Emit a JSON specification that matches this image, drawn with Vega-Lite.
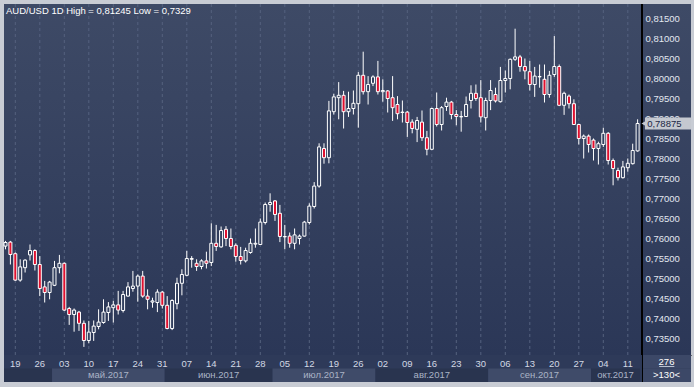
{
  "$schema": "https://vega.github.io/schema/vega-lite/v6.json",
  "padding": {"left": 3, "top": 3, "right": 4, "bottom": 6},
  "background": "#c8ccd4",
  "bounds": "flush",
  "spacing": 0,
  "config": {
    "font": "Liberation Sans",
    "locale": {
      "number": {"decimal": ",", "thousands": " ", "grouping": [3], "currency": ["", " ₽"]},
      "time": {
        "dateTime": "%A, %e %B %Y г. %X",
        "date": "%d.%m.%Y",
        "time": "%H:%M:%S",
        "periods": ["AM", "PM"],
        "days": ["воскресенье", "понедельник", "вторник", "среда", "четверг", "пятница", "суббота"],
        "shortDays": ["вс", "пн", "вт", "ср", "чт", "пт", "сб"],
        "months": ["января", "февраля", "марта", "апреля", "мая", "июня", "июля", "августа", "сентября", "октября", "ноября", "декабря"],
        "shortMonths": ["янв", "фев", "мар", "апр", "май", "июн", "июл", "авг", "сен", "окт", "ноя", "дек"]
      }
    }
  },
  "data": {
    "format": {"parse": {"d": "utc:'%Y-%m-%d'"}},
    "values": [
      {"i":0,"d":"2017-04-17","o":0.7581,"h":0.7594,"l":0.7573,"c":0.7590},
      {"i":1,"d":"2017-04-18","o":0.7591,"h":0.7594,"l":0.7535,"c":0.7560},
      {"i":2,"d":"2017-04-19","o":0.7562,"h":0.7565,"l":0.7494,"c":0.7496},
      {"i":3,"d":"2017-04-20","o":0.7496,"h":0.7548,"l":0.7492,"c":0.7529},
      {"i":4,"d":"2017-04-21","o":0.7527,"h":0.7548,"l":0.7515,"c":0.7546},
      {"i":5,"d":"2017-04-24","o":0.7559,"h":0.7585,"l":0.7545,"c":0.7570},
      {"i":6,"d":"2017-04-25","o":0.7570,"h":0.7573,"l":0.7520,"c":0.7535},
      {"i":7,"d":"2017-04-26","o":0.7535,"h":0.7556,"l":0.7456,"c":0.7475},
      {"i":8,"d":"2017-04-27","o":0.7479,"h":0.7494,"l":0.7440,"c":0.7465},
      {"i":9,"d":"2017-04-28","o":0.7465,"h":0.7494,"l":0.7448,"c":0.7491},
      {"i":10,"d":"2017-05-01","o":0.7483,"h":0.7544,"l":0.7481,"c":0.7527},
      {"i":11,"d":"2017-05-02","o":0.7527,"h":0.7559,"l":0.7513,"c":0.7538},
      {"i":12,"d":"2017-05-03","o":0.7538,"h":0.7540,"l":0.7419,"c":0.7421},
      {"i":13,"d":"2017-05-04","o":0.7425,"h":0.7429,"l":0.7384,"c":0.7410},
      {"i":14,"d":"2017-05-05","o":0.7410,"h":0.7425,"l":0.7367,"c":0.7421},
      {"i":15,"d":"2017-05-08","o":0.7416,"h":0.7419,"l":0.7369,"c":0.7388},
      {"i":16,"d":"2017-05-09","o":0.7388,"h":0.7395,"l":0.7329,"c":0.7345},
      {"i":17,"d":"2017-05-10","o":0.7345,"h":0.7394,"l":0.7338,"c":0.7366},
      {"i":18,"d":"2017-05-11","o":0.7365,"h":0.7395,"l":0.7344,"c":0.7381},
      {"i":19,"d":"2017-05-12","o":0.7380,"h":0.7423,"l":0.7373,"c":0.7391},
      {"i":20,"d":"2017-05-15","o":0.7390,"h":0.7448,"l":0.7387,"c":0.7416},
      {"i":21,"d":"2017-05-16","o":0.7415,"h":0.7441,"l":0.7394,"c":0.7429},
      {"i":22,"d":"2017-05-17","o":0.7427,"h":0.7444,"l":0.7390,"c":0.7434},
      {"i":23,"d":"2017-05-18","o":0.7434,"h":0.7469,"l":0.7410,"c":0.7421},
      {"i":24,"d":"2017-05-19","o":0.7420,"h":0.7469,"l":0.7415,"c":0.7460},
      {"i":25,"d":"2017-05-22","o":0.7456,"h":0.7491,"l":0.7455,"c":0.7479},
      {"i":26,"d":"2017-05-23","o":0.7475,"h":0.7519,"l":0.7467,"c":0.7481},
      {"i":27,"d":"2017-05-24","o":0.7481,"h":0.7510,"l":0.7442,"c":0.7506},
      {"i":28,"d":"2017-05-25","o":0.7506,"h":0.7519,"l":0.7452,"c":0.7456},
      {"i":29,"d":"2017-05-26","o":0.7456,"h":0.7473,"l":0.7423,"c":0.7448},
      {"i":30,"d":"2017-05-29","o":0.7441,"h":0.7452,"l":0.7427,"c":0.7444},
      {"i":31,"d":"2017-05-30","o":0.7440,"h":0.7473,"l":0.7416,"c":0.7466},
      {"i":32,"d":"2017-05-31","o":0.7466,"h":0.7469,"l":0.7425,"c":0.7433},
      {"i":33,"d":"2017-06-01","o":0.7433,"h":0.7456,"l":0.7373,"c":0.7375},
      {"i":34,"d":"2017-06-02","o":0.7375,"h":0.7448,"l":0.7371,"c":0.7445},
      {"i":35,"d":"2017-06-05","o":0.7437,"h":0.7502,"l":0.7423,"c":0.7488},
      {"i":36,"d":"2017-06-06","o":0.7488,"h":0.7523,"l":0.7458,"c":0.7510},
      {"i":37,"d":"2017-06-07","o":0.7508,"h":0.7569,"l":0.7506,"c":0.7550},
      {"i":38,"d":"2017-06-08","o":0.7548,"h":0.7556,"l":0.7527,"c":0.7550},
      {"i":39,"d":"2017-06-09","o":0.7538,"h":0.7548,"l":0.7519,"c":0.7530},
      {"i":40,"d":"2017-06-12","o":0.7530,"h":0.7548,"l":0.7523,"c":0.7544},
      {"i":41,"d":"2017-06-13","o":0.7544,"h":0.7567,"l":0.7525,"c":0.7538},
      {"i":42,"d":"2017-06-14","o":0.7540,"h":0.7638,"l":0.7531,"c":0.7588},
      {"i":43,"d":"2017-06-15","o":0.7588,"h":0.7634,"l":0.7569,"c":0.7580},
      {"i":44,"d":"2017-06-16","o":0.7579,"h":0.7630,"l":0.7577,"c":0.7620},
      {"i":45,"d":"2017-06-19","o":0.7623,"h":0.7631,"l":0.7581,"c":0.7600},
      {"i":46,"d":"2017-06-20","o":0.7600,"h":0.7625,"l":0.7573,"c":0.7580},
      {"i":47,"d":"2017-06-21","o":0.7583,"h":0.7588,"l":0.7542,"c":0.7555},
      {"i":48,"d":"2017-06-22","o":0.7555,"h":0.7579,"l":0.7535,"c":0.7545},
      {"i":49,"d":"2017-06-23","o":0.7544,"h":0.7577,"l":0.7540,"c":0.7570},
      {"i":50,"d":"2017-06-26","o":0.7565,"h":0.7600,"l":0.7562,"c":0.7588},
      {"i":51,"d":"2017-06-27","o":0.7586,"h":0.7625,"l":0.7577,"c":0.7588},
      {"i":52,"d":"2017-06-28","o":0.7585,"h":0.7650,"l":0.7584,"c":0.7641},
      {"i":53,"d":"2017-06-29","o":0.7640,"h":0.7690,"l":0.7635,"c":0.7685},
      {"i":54,"d":"2017-06-30","o":0.7685,"h":0.7713,"l":0.7667,"c":0.7690},
      {"i":55,"d":"2017-07-03","o":0.7694,"h":0.7696,"l":0.7644,"c":0.7660},
      {"i":56,"d":"2017-07-04","o":0.7663,"h":0.7684,"l":0.7591,"c":0.7605},
      {"i":57,"d":"2017-07-05","o":0.7604,"h":0.7634,"l":0.7573,"c":0.7605},
      {"i":58,"d":"2017-07-06","o":0.7606,"h":0.7615,"l":0.7577,"c":0.7588},
      {"i":59,"d":"2017-07-07","o":0.7588,"h":0.7625,"l":0.7573,"c":0.7609},
      {"i":60,"d":"2017-07-10","o":0.7600,"h":0.7610,"l":0.7585,"c":0.7606},
      {"i":61,"d":"2017-07-11","o":0.7606,"h":0.7644,"l":0.7605,"c":0.7641},
      {"i":62,"d":"2017-07-12","o":0.7640,"h":0.7688,"l":0.7635,"c":0.7681},
      {"i":63,"d":"2017-07-13","o":0.7680,"h":0.7741,"l":0.7675,"c":0.7731},
      {"i":64,"d":"2017-07-14","o":0.7731,"h":0.7838,"l":0.7727,"c":0.7829},
      {"i":65,"d":"2017-07-17","o":0.7825,"h":0.7838,"l":0.7787,"c":0.7802},
      {"i":66,"d":"2017-07-18","o":0.7802,"h":0.7944,"l":0.7788,"c":0.7919},
      {"i":67,"d":"2017-07-19","o":0.7917,"h":0.7962,"l":0.7910,"c":0.7954},
      {"i":68,"d":"2017-07-20","o":0.7952,"h":0.7991,"l":0.7898,"c":0.7958},
      {"i":69,"d":"2017-07-21","o":0.7958,"h":0.7969,"l":0.7875,"c":0.7917},
      {"i":70,"d":"2017-07-24","o":0.7917,"h":0.7967,"l":0.7904,"c":0.7925},
      {"i":71,"d":"2017-07-25","o":0.7925,"h":0.7970,"l":0.7910,"c":0.7938},
      {"i":72,"d":"2017-07-26","o":0.7937,"h":0.8016,"l":0.7877,"c":0.8008},
      {"i":73,"d":"2017-07-27","o":0.8008,"h":0.8067,"l":0.7960,"c":0.7967},
      {"i":74,"d":"2017-07-28","o":0.7967,"h":0.8006,"l":0.7935,"c":0.7985},
      {"i":75,"d":"2017-07-31","o":0.7988,"h":0.8008,"l":0.7981,"c":0.8004},
      {"i":76,"d":"2017-08-01","o":0.8004,"h":0.8044,"l":0.7960,"c":0.7967},
      {"i":77,"d":"2017-08-02","o":0.7967,"h":0.7998,"l":0.7942,"c":0.7970},
      {"i":78,"d":"2017-08-03","o":0.7969,"h":0.7971,"l":0.7915,"c":0.7950},
      {"i":79,"d":"2017-08-04","o":0.7952,"h":0.8006,"l":0.7894,"c":0.7927},
      {"i":80,"d":"2017-08-07","o":0.7935,"h":0.7956,"l":0.7898,"c":0.7912},
      {"i":81,"d":"2017-08-08","o":0.7915,"h":0.7945,"l":0.7890,"c":0.7916},
      {"i":82,"d":"2017-08-09","o":0.7916,"h":0.7919,"l":0.7854,"c":0.7890},
      {"i":83,"d":"2017-08-10","o":0.7891,"h":0.7898,"l":0.7863,"c":0.7875},
      {"i":84,"d":"2017-08-11","o":0.7873,"h":0.7904,"l":0.7841,"c":0.7895},
      {"i":85,"d":"2017-08-14","o":0.7891,"h":0.7920,"l":0.7844,"c":0.7852},
      {"i":86,"d":"2017-08-15","o":0.7852,"h":0.7869,"l":0.7808,"c":0.7823},
      {"i":87,"d":"2017-08-16","o":0.7823,"h":0.7927,"l":0.7821,"c":0.7925},
      {"i":88,"d":"2017-08-17","o":0.7925,"h":0.7965,"l":0.7880,"c":0.7885},
      {"i":89,"d":"2017-08-18","o":0.7885,"h":0.7931,"l":0.7870,"c":0.7927},
      {"i":90,"d":"2017-08-21","o":0.7930,"h":0.7952,"l":0.7919,"c":0.7941},
      {"i":91,"d":"2017-08-22","o":0.7941,"h":0.7944,"l":0.7898,"c":0.7910},
      {"i":92,"d":"2017-08-23","o":0.7910,"h":0.7921,"l":0.7883,"c":0.7905},
      {"i":93,"d":"2017-08-24","o":0.7904,"h":0.7919,"l":0.7867,"c":0.7905},
      {"i":94,"d":"2017-08-25","o":0.7905,"h":0.7955,"l":0.7904,"c":0.7935},
      {"i":95,"d":"2017-08-28","o":0.7945,"h":0.7983,"l":0.7925,"c":0.7963},
      {"i":96,"d":"2017-08-29","o":0.7963,"h":0.7985,"l":0.7944,"c":0.7950},
      {"i":97,"d":"2017-08-30","o":0.7952,"h":0.7996,"l":0.7890,"c":0.7904},
      {"i":98,"d":"2017-08-31","o":0.7902,"h":0.7952,"l":0.7870,"c":0.7945},
      {"i":99,"d":"2017-09-01","o":0.7945,"h":0.7996,"l":0.7921,"c":0.7970},
      {"i":100,"d":"2017-09-04","o":0.7960,"h":0.7977,"l":0.7940,"c":0.7944},
      {"i":101,"d":"2017-09-05","o":0.7942,"h":0.8029,"l":0.7940,"c":0.7995},
      {"i":102,"d":"2017-09-06","o":0.7995,"h":0.8020,"l":0.7965,"c":0.8000},
      {"i":103,"d":"2017-09-07","o":0.8000,"h":0.8050,"l":0.7973,"c":0.8048},
      {"i":104,"d":"2017-09-08","o":0.8048,"h":0.81245,"l":0.8044,"c":0.8054},
      {"i":105,"d":"2017-09-11","o":0.8054,"h":0.8059,"l":0.8017,"c":0.8030},
      {"i":106,"d":"2017-09-12","o":0.8030,"h":0.8050,"l":0.7998,"c":0.8019},
      {"i":107,"d":"2017-09-13","o":0.8017,"h":0.8044,"l":0.7970,"c":0.7985},
      {"i":108,"d":"2017-09-14","o":0.7985,"h":0.8029,"l":0.7954,"c":0.8006},
      {"i":109,"d":"2017-09-15","o":0.8004,"h":0.8035,"l":0.7977,"c":0.8005},
      {"i":110,"d":"2017-09-18","o":0.7998,"h":0.8035,"l":0.7940,"c":0.7960},
      {"i":111,"d":"2017-09-19","o":0.7960,"h":0.8019,"l":0.7952,"c":0.8008},
      {"i":112,"d":"2017-09-20","o":0.8010,"h":0.8106,"l":0.8004,"c":0.8030},
      {"i":113,"d":"2017-09-21","o":0.8030,"h":0.8035,"l":0.7931,"c":0.7933},
      {"i":114,"d":"2017-09-22","o":0.7933,"h":0.7967,"l":0.7909,"c":0.7963},
      {"i":115,"d":"2017-09-25","o":0.7956,"h":0.7960,"l":0.7925,"c":0.7937},
      {"i":116,"d":"2017-09-26","o":0.7937,"h":0.7948,"l":0.7884,"c":0.7885},
      {"i":117,"d":"2017-09-27","o":0.7885,"h":0.7887,"l":0.7835,"c":0.7850},
      {"i":118,"d":"2017-09-28","o":0.7850,"h":0.7860,"l":0.7800,"c":0.7856},
      {"i":119,"d":"2017-09-29","o":0.7856,"h":0.7860,"l":0.7815,"c":0.7835},
      {"i":120,"d":"2017-10-02","o":0.7846,"h":0.7850,"l":0.7795,"c":0.7825},
      {"i":121,"d":"2017-10-03","o":0.7825,"h":0.7842,"l":0.7785,"c":0.7837},
      {"i":122,"d":"2017-10-04","o":0.7835,"h":0.7877,"l":0.7829,"c":0.7863},
      {"i":123,"d":"2017-10-05","o":0.7863,"h":0.7866,"l":0.7785,"c":0.7795},
      {"i":124,"d":"2017-10-06","o":0.7795,"h":0.7800,"l":0.7733,"c":0.7775},
      {"i":125,"d":"2017-10-09","o":0.7770,"h":0.7777,"l":0.7745,"c":0.7752},
      {"i":126,"d":"2017-10-10","o":0.7752,"h":0.7794,"l":0.7750,"c":0.7779},
      {"i":127,"d":"2017-10-11","o":0.7777,"h":0.7800,"l":0.7767,"c":0.7788},
      {"i":128,"d":"2017-10-12","o":0.7787,"h":0.7837,"l":0.7785,"c":0.7820},
      {"i":129,"d":"2017-10-13","o":0.7819,"h":0.7898,"l":0.7817,"c":0.78875}
    ]
  },
  "vconcat": [
    {
      "width": 687,
      "height": 351,
      "title": {
        "text": "AUD/USD 1D High = 0,81245 Low = 0,7329",
        "anchor": "start",
        "frame": "group",
        "orient": "top",
        "offset": -12,
        "dx": 2,
        "font": "Liberation Sans",
        "fontSize": 9.5,
        "fontWeight": "normal",
        "color": "#ffffff"
      },
      "view": {
        "stroke": null,
        "fill": {
          "gradient": "linear",
          "x1": 0, "y1": 0, "x2": 0, "y2": 1,
          "stops": [
            {"offset": 0, "color": "#3e4a66"},
            {"offset": 1, "color": "#2b3757"}
          ]
        }
      },
      "resolve": {"axis": {"y": "independent"}},
      "encoding": {
        "x": {
          "field": "i",
          "type": "quantitative",
          "scale": {"domain": [-0.306, 139.898], "nice": false, "zero": false, "padding": 0},
          "axis": {"orient": "bottom", "labels": false, "ticks": false, "grid": false, "domain": true, "domainColor": "#000000", "domainWidth": 1, "title": null}
        }
      },
      "layer": [
        {
          "data": {"values": [{"p":0.735},{"p":0.740},{"p":0.745},{"p":0.750},{"p":0.755},{"p":0.760},{"p":0.765},{"p":0.770},{"p":0.775},{"p":0.780},{"p":0.785},{"p":0.790},{"p":0.795},{"p":0.800},{"p":0.805},{"p":0.810},{"p":0.815}]},
          "mark": {"type": "rule", "color": "#55627f", "strokeWidth": 1, "strokeDash": [3, 3]},
          "encoding": {
            "x": {"datum": -0.306},
            "x2": {"datum": 130},
            "y": {
              "field": "p",
              "type": "quantitative",
              "scale": {"domain": [0.730875, 0.818625], "nice": false, "zero": false, "padding": 0},
              "axis": {
                "orient": "right",
                "offset": -49,
                "values": [0.735,0.74,0.745,0.75,0.755,0.76,0.765,0.77,0.775,0.78,0.785,0.79,0.795,0.8,0.805,0.81,0.815],
                "format": ".5f",
                "labelColor": "#e2e7f0",
                "labelFont": "Liberation Sans",
                "labelFontSize": 9.5,
                "labelPadding": 3,
                "labelOverlap": false,
                "labelBound": false,
                "labelFlush": false,
                "ticks": false,
                "domain": false,
                "grid": false,
                "title": null
              }
            }
          }
        },
        {
          "transform": [{"filter": "utcday(datum.d) === 3"}],
          "mark": {"type": "rule", "color": "#55627f", "strokeWidth": 1, "strokeDash": [3, 3]},
          "encoding": {}
        },
        {
          "mark": {"type": "rule", "color": "#ffffff", "strokeWidth": 1},
          "encoding": {
            "y": {"field": "l", "type": "quantitative", "axis": null},
            "y2": {"field": "h"}
          }
        },
        {
          "mark": {"type": "bar", "width": 3, "stroke": "#ffffff", "strokeWidth": 1},
          "encoding": {
            "y": {"field": "o", "type": "quantitative", "axis": null},
            "y2": {"field": "c"},
            "fill": {"condition": {"test": "datum.o > datum.c", "value": "#e0102f"}, "value": "#33405f"}
          }
        },
        {
          "mark": {"type": "rule", "color": "#000000", "strokeWidth": 1},
          "encoding": {"x": {"datum": 130}}
        },
        {
          "transform": [{"filter": "datum.i === 129"}],
          "mark": {"type": "rect", "color": "#c4c8d0", "yOffset": -6, "y2Offset": 6, "clip": true},
          "encoding": {
            "x": {"datum": 130.5},
            "x2": {"datum": 139.898},
            "y": {"field": "c", "type": "quantitative", "axis": null},
            "y2": {"field": "c"}
          }
        },
        {
          "transform": [{"filter": "datum.i === 129"}],
          "mark": {"type": "point", "shape": "triangle-left", "filled": true, "size": 40, "color": "#c4c8d0", "opacity": 1},
          "encoding": {
            "x": {"datum": 130.35},
            "y": {"field": "c", "type": "quantitative", "axis": null}
          }
        },
        {
          "transform": [{"filter": "datum.i === 129"}],
          "mark": {"type": "text", "align": "left", "baseline": "middle", "font": "Liberation Sans", "fontSize": 9.5, "color": "#1c2744"},
          "encoding": {
            "x": {"datum": 130.95},
            "y": {"field": "c", "type": "quantitative", "axis": null},
            "text": {"field": "c", "type": "quantitative", "format": ".5f"}
          }
        }
      ]
    },
    {
      "width": 687,
      "height": 27,
      "view": {"stroke": null, "fill": "#2e3a59"},
      "encoding": {
        "x": {
          "field": "i",
          "type": "quantitative",
          "scale": {"domain": [-0.306, 139.898], "nice": false, "zero": false, "padding": 0},
          "axis": null
        }
      },
      "layer": [
        {
          "mark": {"type": "bar", "xOffset": -2.45, "x2Offset": 2.45, "clip": true},
          "encoding": {
            "x": {"aggregate": "min", "field": "i", "type": "quantitative"},
            "x2": {"aggregate": "max", "field": "i"},
            "y": {"datum": "m", "type": "nominal", "scale": {"domain": ["d", "m"], "paddingInner": 0, "paddingOuter": 0}, "axis": null},
            "detail": {"field": "d", "timeUnit": "utcyearmonth", "type": "temporal"},
            "color": {"condition": {"test": "utcmonth(datum['utcyearmonth_d']) % 2 === 0", "value": "#3f4b69"}, "value": "#29344f"}
          }
        },
        {
          "transform": [{"filter": "utcmonth(datum.d) !== 3"}],
          "mark": {"type": "text", "font": "Liberation Sans", "fontSize": 9.5, "color": "#aab3c6", "baseline": "middle"},
          "encoding": {
            "x": {"aggregate": "mean", "field": "i", "type": "quantitative"},
            "y": {"datum": "m", "type": "nominal"},
            "text": {"field": "d", "timeUnit": "utcyearmonth", "type": "temporal", "format": "%b.%Y"}
          }
        },
        {
          "transform": [{"filter": "utcday(datum.d) === 3"}],
          "mark": {"type": "text", "font": "Liberation Sans", "fontSize": 9.5, "color": "#d2d8e4", "baseline": "middle", "dy": 2},
          "encoding": {
            "y": {"datum": "d", "type": "nominal"},
            "text": {"field": "d", "timeUnit": "utcyearmonthdate", "type": "temporal", "format": "%d"}
          }
        },
        {
          "transform": [{"filter": "datum.i === 129"}],
          "mark": {"type": "rect", "color": "#3c4867"},
          "encoding": {
            "x": {"datum": 130},
            "x2": {"datum": 139.898},
            "y": {"datum": "d", "type": "nominal"}
          }
        },
        {
          "transform": [{"filter": "datum.i === 129"}],
          "mark": {"type": "rect", "color": "#3c4867"},
          "encoding": {
            "x": {"datum": 130},
            "x2": {"datum": 139.898},
            "y": {"datum": "m", "type": "nominal"}
          }
        },
        {
          "transform": [{"filter": "datum.i === 129"}],
          "mark": {"type": "rule", "color": "#b8c0d0", "strokeWidth": 1, "yOffset": -2},
          "encoding": {
            "x": {"datum": 133.4},
            "x2": {"datum": 136.5},
            "y": {"datum": "d", "type": "nominal", "bandPosition": 1}
          }
        },
        {
          "transform": [{"filter": "datum.i === 129"}],
          "mark": {"type": "text", "font": "Liberation Sans", "fontSize": 9.5, "color": "#ffffff", "baseline": "middle", "text": "276"},
          "encoding": {
            "x": {"datum": 134.9},
            "y": {"datum": "d", "type": "nominal"}
          }
        },
        {
          "transform": [{"filter": "datum.i === 129"}],
          "mark": {"type": "text", "font": "Liberation Sans", "fontSize": 9.5, "color": "#ffffff", "baseline": "middle", "text": ">130<"},
          "encoding": {
            "x": {"datum": 134.9},
            "y": {"datum": "m", "type": "nominal"}
          }
        },
        {
          "transform": [{"filter": "datum.i === 129"}],
          "mark": {"type": "rule", "color": "#000000", "strokeWidth": 1},
          "encoding": {"x": {"datum": 130}}
        }
      ]
    }
  ]
}
